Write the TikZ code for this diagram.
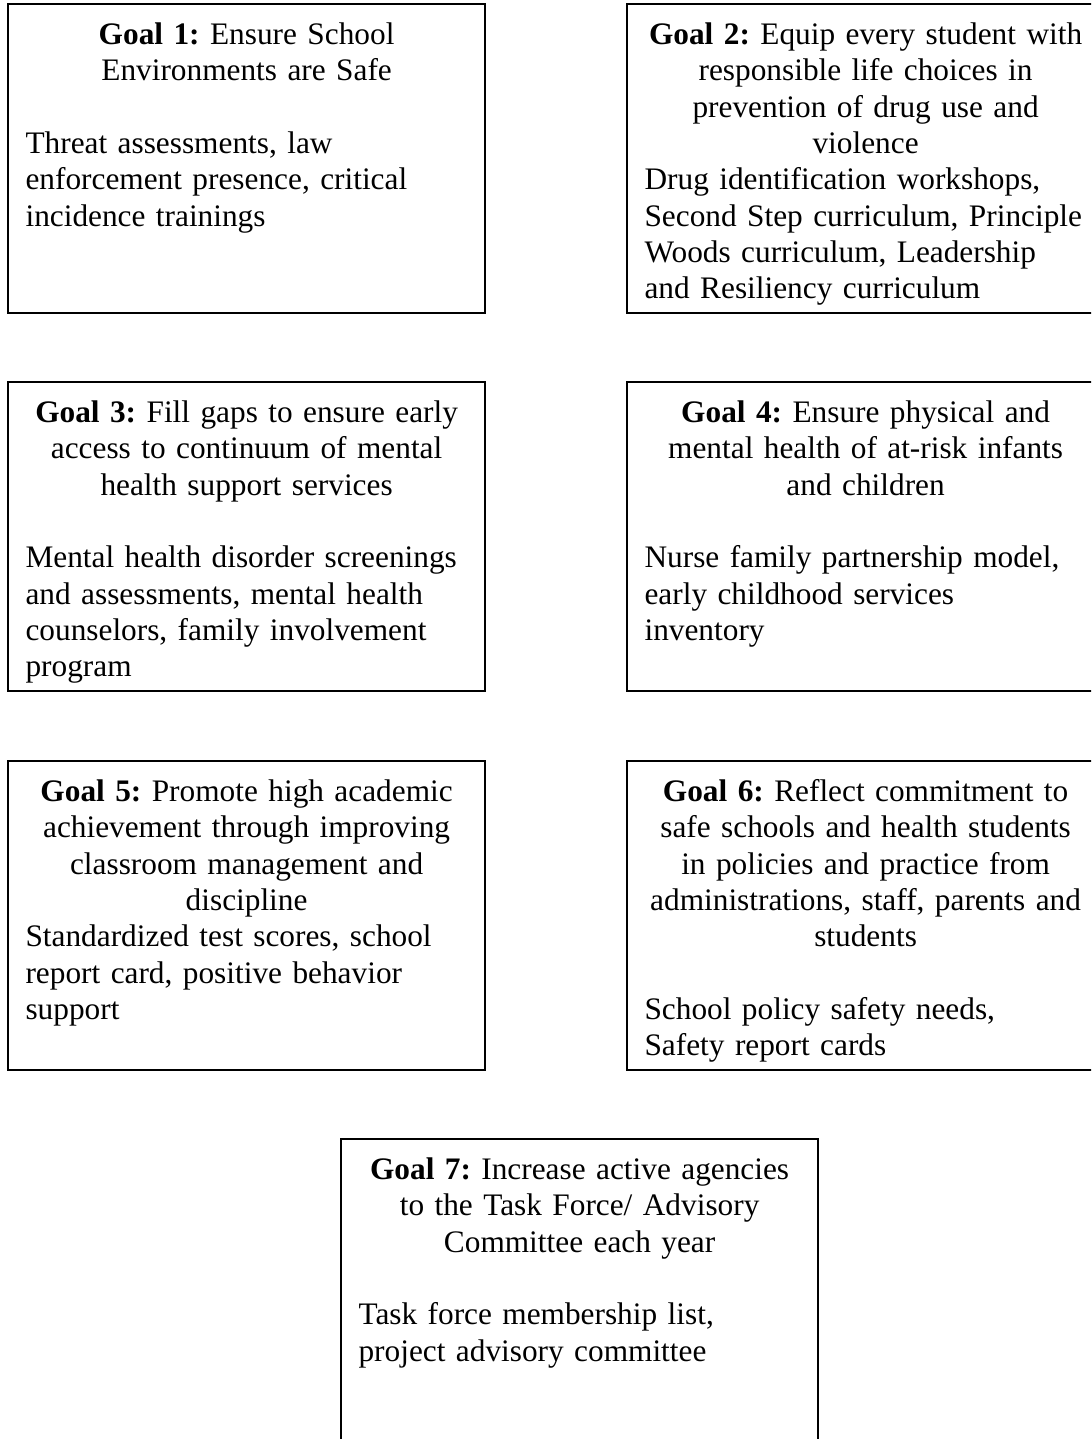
\documentclass[tikz,border=0pt]{standalone}
\usepackage{fontspec}
\setmainfont{Liberation Serif}
\begin{document}
\begin{tikzpicture}[x=0.38pt,y=-0.38pt,
        goalbox/.style={draw,line width=0.8pt,anchor=north west,minimum width=181.3pt,minimum height=117.4pt,inner sep=0pt},
        goaltext/.style={anchor=north,inner sep=0pt,text width=168pt,font=\fontsize{11.9}{13.8}\selectfont\frenchspacing},
    ]
        \clip (0,0) rectangle (1091,1439);
        \node[goalbox] (b1) at (7,3) {};
        \node[goalbox] (b2) at (626,3) {};
        \node[goalbox] (b3) at (7,381) {};
        \node[goalbox] (b4) at (626,381) {};
        \node[goalbox] (b5) at (7,760) {};
        \node[goalbox] (b6) at (626,760) {};
        \node[goalbox] (b7) at (340,1138) {};
        \node[goaltext] (t1) at ([yshift=-5.9pt]b1.north) {\centering\strut\textbf{Goal 1:} Ensure School\\ Environments are Safe\par\vspace{\baselineskip}\raggedright Threat assessments, law\\ enforcement presence, critical\\ incidence trainings};
        \node[goaltext] (t2) at ([yshift=-5.9pt]b2.north) {\centering\strut\textbf{Goal 2:} Equip every student with\\ responsible life choices in\\ prevention of drug use and\\ violence\par\raggedright Drug identification workshops,\\ Second Step curriculum, Principle\\ Woods curriculum, Leadership\\ and Resiliency curriculum};
        \node[goaltext] (t3) at ([yshift=-5.9pt]b3.north) {\centering\strut\textbf{Goal 3:} Fill gaps to ensure early\\ access to continuum of mental\\ health support services\par\vspace{\baselineskip}\raggedright Mental health disorder screenings\\ and assessments, mental health\\ counselors, family involvement\\ program};
        \node[goaltext] (t4) at ([yshift=-5.9pt]b4.north) {\centering\strut\textbf{Goal 4:} Ensure physical and\\ mental health of at-risk infants\\ and children\par\vspace{\baselineskip}\raggedright Nurse family partnership model,\\ early childhood services\\ inventory};
        \node[goaltext] (t5) at ([yshift=-5.9pt]b5.north) {\centering\strut\textbf{Goal 5:} Promote high academic\\ achievement through improving\\ classroom management and\\ discipline\par\raggedright Standardized test scores, school\\ report card, positive behavior\\ support};
        \node[goaltext] (t6) at ([yshift=-5.9pt]b6.north) {\centering\strut\textbf{Goal 6:} Reflect commitment to\\ safe schools and health students\\ in policies and practice from\\ administrations, staff, parents and\\ students\par\vspace{\baselineskip}\raggedright School policy safety needs,\\ Safety report cards};
        \node[goaltext] (t7) at ([yshift=-5.9pt]b7.north) {\centering\strut\textbf{Goal 7:} Increase active agencies\\ to the Task Force/ Advisory\\ Committee each year\par\vspace{\baselineskip}\raggedright Task force membership list,\\ project advisory committee};
    \end{tikzpicture}
\end{document}
